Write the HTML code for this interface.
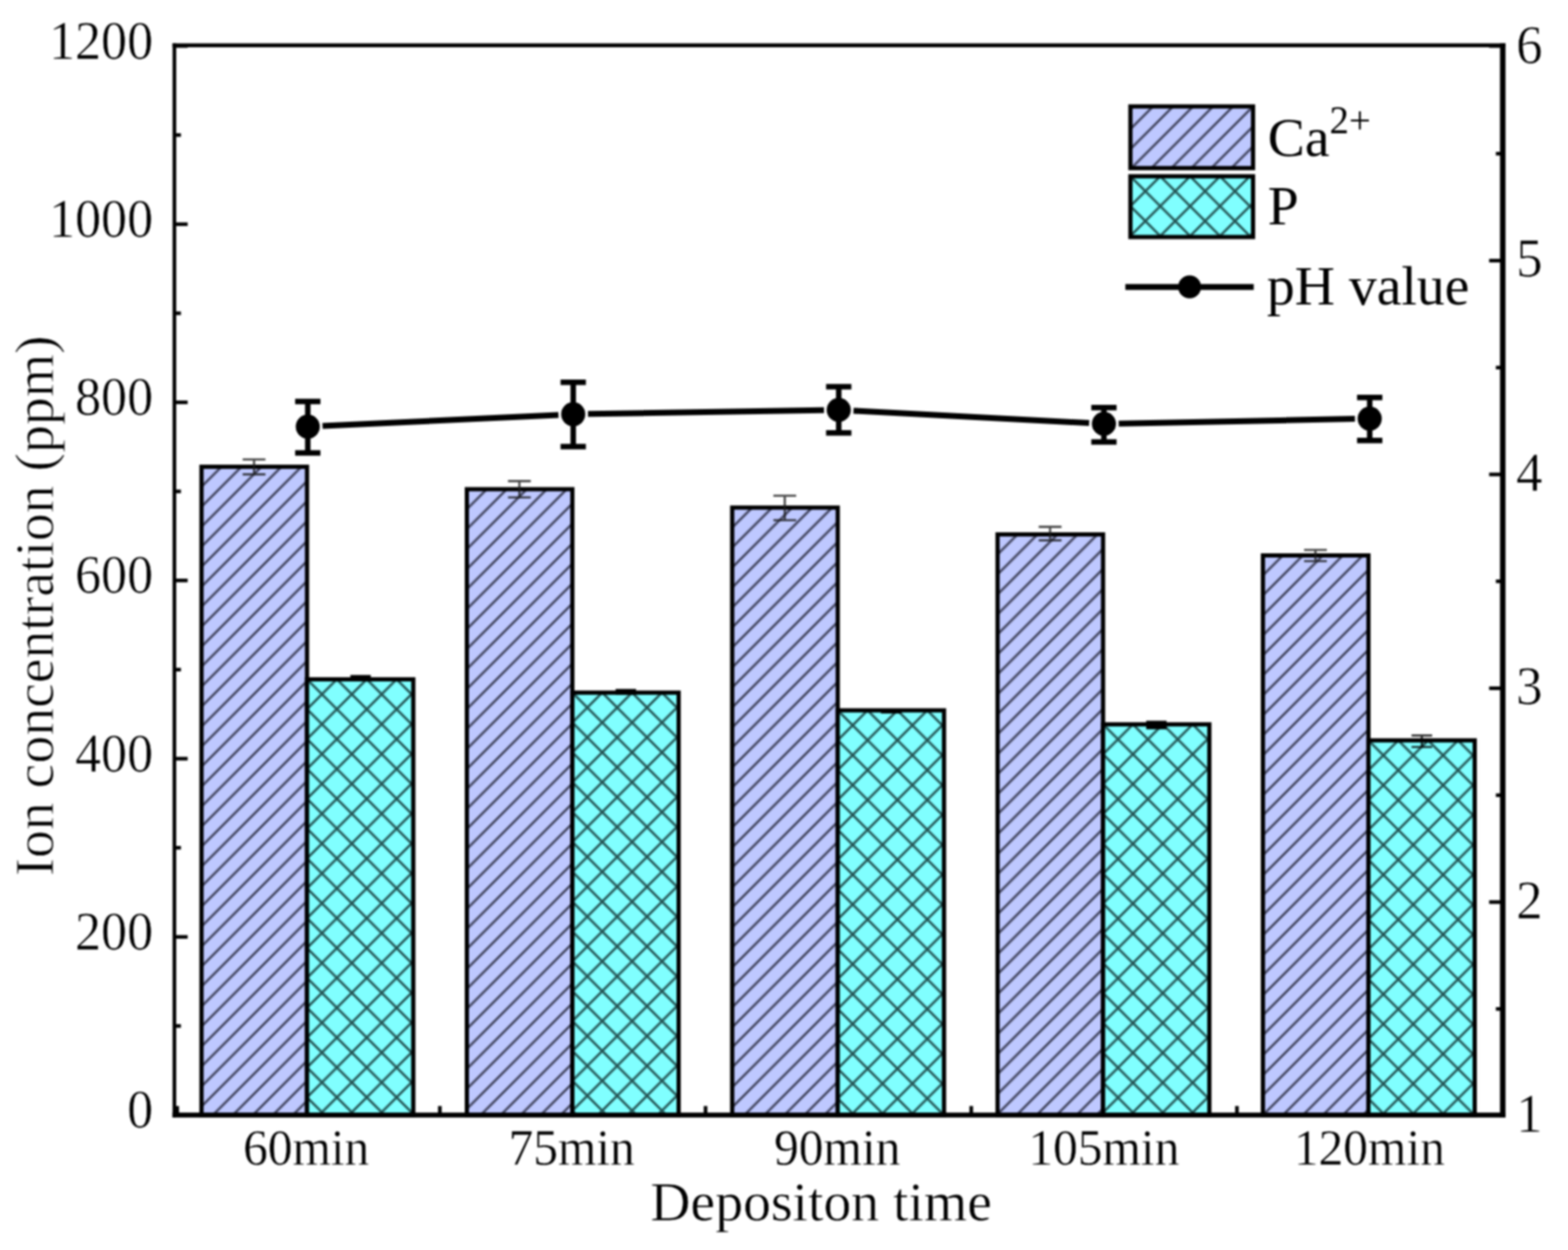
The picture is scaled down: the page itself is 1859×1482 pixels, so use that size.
<!DOCTYPE html>
<html lang="en">
<head>
<meta charset="utf-8">
<title>Ion concentration and pH value vs. deposition time</title>
<style>
html,body{margin:0;padding:0;background:#fff;}
body{width:1859px;height:1482px;overflow:hidden;}
svg{display:block;filter:blur(0.8px);}
text{font-family:"Liberation Serif", "Times New Roman", Times, serif;fill:#000;}
.tt{font-size:66px;}
</style>
</head>
<body>
<svg width="1859" height="1482" viewBox="0 0 1859 1482">
<defs>
<pattern id="hca" patternUnits="userSpaceOnUse" x="0.00" y="0" width="23.70" height="23.70">
<rect width="23.70" height="23.70" fill="#bec8ff"/>
<path d="M-23.70 23.70 L23.70 -23.70 M0.00 23.70 L23.70 0.00 M0.00 47.40 L47.40 0.00" stroke="#0b0b18" stroke-opacity="0.7" stroke-width="2.80" fill="none"/>
</pattern>
<pattern id="hcal" patternUnits="userSpaceOnUse" x="3.20" y="0" width="23.70" height="23.70">
<rect width="23.70" height="23.70" fill="#bec8ff"/>
<path d="M-23.70 23.70 L23.70 -23.70 M0.00 23.70 L23.70 0.00 M0.00 47.40 L47.40 0.00" stroke="#0b0b18" stroke-opacity="0.7" stroke-width="2.80" fill="none"/>
</pattern>
<pattern id="hp" patternUnits="userSpaceOnUse" x="0.00" y="0.00" width="35.40" height="35.40">
<rect width="35.40" height="35.40" fill="#80ffff"/>
<path d="M-35.40 35.40 L35.40 -35.40 M0.00 35.40 L35.40 0.00 M0.00 70.80 L70.80 0.00 M-35.40 -35.40 L70.80 70.80 M-35.40 0.00 L35.40 70.80 M0.00 -35.40 L70.80 35.40" stroke="#041818" stroke-opacity="0.74" stroke-width="2.80" fill="none"/>
</pattern>
</defs>
<rect x="0" y="0" width="1859" height="1482" fill="#ffffff"/>
<g stroke="#000" stroke-width="5.0" stroke-linejoin="miter">
<g transform="translate(238.9 553.4)"><rect x="0" y="0" width="125.1" height="768.6" fill="url(#hca)"/></g>
<g transform="translate(364.0 805.4)"><rect x="0" y="0" width="126.0" height="516.6" fill="url(#hp)"/></g>
<g transform="translate(553.5 580.0)"><rect x="0" y="0" width="125.1" height="742.0" fill="url(#hca)"/></g>
<g transform="translate(678.6 821.2)"><rect x="0" y="0" width="126.0" height="500.8" fill="url(#hp)"/></g>
<g transform="translate(868.1 601.8)"><rect x="0" y="0" width="125.1" height="720.2" fill="url(#hca)"/></g>
<g transform="translate(993.2 842.2)"><rect x="0" y="0" width="126.0" height="479.8" fill="url(#hp)"/></g>
<g transform="translate(1182.7 633.6)"><rect x="0" y="0" width="125.1" height="688.4" fill="url(#hca)"/></g>
<g transform="translate(1307.8 858.8)"><rect x="0" y="0" width="126.0" height="463.2" fill="url(#hp)"/></g>
<g transform="translate(1497.3 658.5)"><rect x="0" y="0" width="125.1" height="663.5" fill="url(#hca)"/></g>
<g transform="translate(1622.4 877.8)"><rect x="0" y="0" width="126.0" height="444.2" fill="url(#hp)"/></g>
</g>
<g stroke="#1a1a1a" stroke-width="2.6" fill="none" stroke-opacity="0.8">
<path d="M301.2 544.8 V562.4 M287.7 544.8 H314.7 M287.7 562.4 H314.7"/>
<path d="M615.8 570.4 V589.7 M602.3 570.4 H629.3 M602.3 589.7 H629.3"/>
<path d="M930.4 587.7 V616.7 M916.9 587.7 H943.9 M916.9 616.7 H943.9"/>
<path d="M1245.0 624.6 V640.6 M1231.5 624.6 H1258.5 M1231.5 640.6 H1258.5"/>
<path d="M1559.6 652.0 V665.2 M1546.1 652.0 H1573.1 M1546.1 665.2 H1573.1"/>
</g>
<g fill="#000">
<rect x="415.4" y="800.3" width="24.2" height="6.9"/>
<rect x="729.9" y="816.8" width="24.2" height="6.8"/>
<rect x="1044.4" y="841.0" width="24.2" height="4.9"/>
<rect x="1358.9" y="854.5" width="24.2" height="10.1"/>
</g>
<path d="M1685.7 872.0 V886.0 M1673.5 872.0 H1697.9 M1673.5 885.6 H1697.9" stroke="#000" stroke-width="2.4" fill="none" stroke-opacity="0.85"/>
<g fill="#000">
<rect x="204.6" y="51.4" width="4.3" height="1273.5"/>
<rect x="1778.4" y="51.4" width="6.5" height="1273.5"/>
<rect x="204.6" y="51.4" width="1580.3" height="4.6"/>
<rect x="204.6" y="1319.1" width="1580.3" height="5.8"/>
</g>
<g stroke="#000" stroke-width="4.3" fill="none">
<path d="M206.5 1322.0 H222.5"/>
<path d="M206.5 1216.4 H214.5"/>
<path d="M206.5 1110.8 H222.5"/>
<path d="M206.5 1005.1 H214.5"/>
<path d="M206.5 899.5 H222.5"/>
<path d="M206.5 793.9 H214.5"/>
<path d="M206.5 688.2 H222.5"/>
<path d="M206.5 582.6 H214.5"/>
<path d="M206.5 477.0 H222.5"/>
<path d="M206.5 371.4 H214.5"/>
<path d="M206.5 265.8 H222.5"/>
<path d="M206.5 160.1 H214.5"/>
<path d="M206.5 54.5 H222.5"/>
<path d="M1781.5 1322.0 H1765.5"/>
<path d="M1781.5 1196.2 H1773.5"/>
<path d="M1781.5 1069.5 H1765.5"/>
<path d="M1781.5 942.8 H1773.5"/>
<path d="M1781.5 816.0 H1765.5"/>
<path d="M1781.5 689.2 H1773.5"/>
<path d="M1781.5 562.5 H1765.5"/>
<path d="M1781.5 435.8 H1773.5"/>
<path d="M1781.5 309.0 H1765.5"/>
<path d="M1781.5 182.2 H1773.5"/>
<path d="M1781.5 54.5 H1765.5"/>
<path d="M210.1 1322.0 V1311.3"/>
<path d="M521.5 1322.0 V1311.3"/>
<path d="M836.5 1322.0 V1311.3"/>
<path d="M1151.5 1322.0 V1311.3"/>
<path d="M1466.5 1322.0 V1311.3"/>
</g>
<g stroke="#000" stroke-width="7" fill="none">
<path d="M382.4 505.0 L662.1 491.9"/>
<path d="M697.1 490.8 L976.9 486.3"/>
<path d="M1011.9 486.9 L1291.3 501.6"/>
<path d="M1326.3 502.2 L1606.4 496.6"/>
</g>
<g stroke="#000" stroke-width="6.5" fill="none">
<path d="M364.9 476.0 V537.0 M349.9 476.0 H379.9 M349.9 537.0 H379.9"/>
<path d="M679.6 453.2 V529.6 M664.6 453.2 H694.6 M664.6 529.6 H694.6"/>
<path d="M994.4 458.6 V513.2 M979.4 458.6 H1009.4 M979.4 513.2 H1009.4"/>
<path d="M1308.8 483.3 V523.9 M1293.8 483.3 H1323.8 M1293.8 523.9 H1323.8"/>
<path d="M1623.9 471.3 V522.2 M1608.9 471.3 H1638.9 M1608.9 522.2 H1638.9"/>
</g>
<g fill="#000">
<circle cx="364.9" cy="505.8" r="14.3"/>
<circle cx="679.6" cy="491.1" r="14.3"/>
<circle cx="994.4" cy="486.0" r="14.3"/>
<circle cx="1308.8" cy="502.5" r="14.3"/>
<circle cx="1623.9" cy="496.3" r="14.3"/>
</g>
<g stroke="#000" stroke-width="5">
<g transform="translate(1340.2 126.2)"><rect x="0" y="0" width="145.4" height="73.1" fill="url(#hcal)"/></g>
<g transform="translate(1340.2 209.0)"><rect x="0" y="0" width="145.4" height="72.0" fill="url(#hp)"/></g>
</g>
<path d="M1334.2 340.2 H1486.4" stroke="#000" stroke-width="7" fill="none"/>
<circle cx="1410.4" cy="340.2" r="13.6" fill="#000"/>
<text class="tt" x="1503" y="184.7">Ca<tspan dy="-27" font-size="46">2+</tspan></text>
<text class="tt" x="1503" y="266.4">P</text>
<text class="tt" x="1502" y="361">pH value</text>
<text transform="translate(181.60 1337.00) scale(0.9500 1)" font-size="65" text-anchor="end" stroke="#fff" stroke-width="0.60">0</text>
<text transform="translate(181.60 1125.75) scale(0.9500 1)" font-size="65" text-anchor="end" stroke="#fff" stroke-width="0.60">200</text>
<text transform="translate(181.60 914.50) scale(0.9500 1)" font-size="65" text-anchor="end" stroke="#fff" stroke-width="0.60">400</text>
<text transform="translate(181.60 703.25) scale(0.9500 1)" font-size="65" text-anchor="end" stroke="#fff" stroke-width="0.60">600</text>
<text transform="translate(181.60 492.00) scale(0.9500 1)" font-size="65" text-anchor="end" stroke="#fff" stroke-width="0.60">800</text>
<text transform="translate(181.60 280.75) scale(0.9500 1)" font-size="65" text-anchor="end" stroke="#fff" stroke-width="0.60">1000</text>
<text transform="translate(181.60 69.50) scale(0.9500 1)" font-size="65" text-anchor="end" stroke="#fff" stroke-width="0.60">1200</text>
<text transform="translate(1797.50 1342.30) scale(0.9500 1)" font-size="66" text-anchor="start" stroke="#fff" stroke-width="0.60">1</text>
<text transform="translate(1797.50 1088.80) scale(0.9500 1)" font-size="66" text-anchor="start" stroke="#fff" stroke-width="0.60">2</text>
<text transform="translate(1797.50 835.30) scale(0.9500 1)" font-size="66" text-anchor="start" stroke="#fff" stroke-width="0.60">3</text>
<text transform="translate(1797.50 581.80) scale(0.9500 1)" font-size="66" text-anchor="start" stroke="#fff" stroke-width="0.60">4</text>
<text transform="translate(1797.50 328.30) scale(0.9500 1)" font-size="66" text-anchor="start" stroke="#fff" stroke-width="0.60">5</text>
<text transform="translate(1797.50 74.80) scale(0.9500 1)" font-size="66" text-anchor="start" stroke="#fff" stroke-width="0.60">6</text>
<text transform="translate(363.00 1380.80) scale(0.9450 1)" font-size="62" text-anchor="middle" stroke="#fff" stroke-width="0.40">60min</text>
<text transform="translate(677.80 1380.80) scale(0.9450 1)" font-size="62" text-anchor="middle" stroke="#fff" stroke-width="0.40">75min</text>
<text transform="translate(992.60 1380.80) scale(0.9450 1)" font-size="62" text-anchor="middle" stroke="#fff" stroke-width="0.40">90min</text>
<text transform="translate(1308.70 1380.80) scale(0.9450 1)" font-size="62" text-anchor="middle" stroke="#fff" stroke-width="0.40">105min</text>
<text transform="translate(1623.50 1380.80) scale(0.9450 1)" font-size="62" text-anchor="middle" stroke="#fff" stroke-width="0.40">120min</text>
<text class="tt" text-anchor="middle" x="973.5" y="1447" stroke="#fff" stroke-width="0.5">Depositon time</text>
<text class="tt" text-anchor="middle" transform="translate(63 718.4) rotate(-90)" stroke="#fff" stroke-width="0.9">Ion concentration (ppm)</text>
</svg>
</body>
</html>
